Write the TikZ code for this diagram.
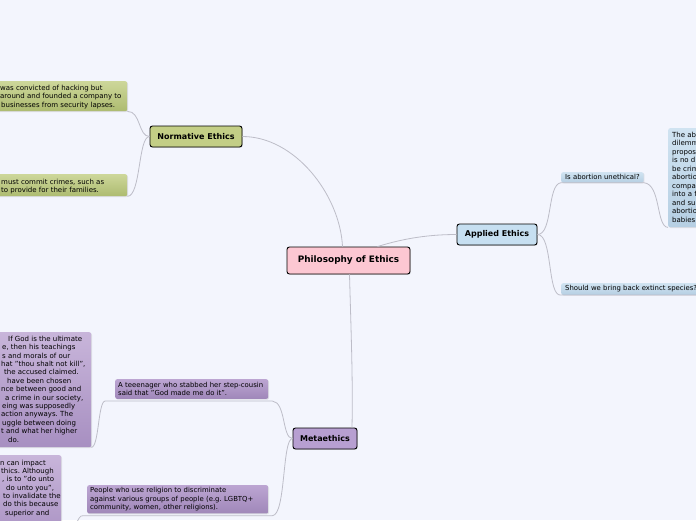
\documentclass[tikz,border=0pt]{standalone}
\usepackage{fontspec}
\setmainfont{DejaVu Sans}
\usetikzlibrary{calc,shadows}
\definecolor{bg}{HTML}{F3F5FD}
\definecolor{linec}{HTML}{BDBDC8}
\definecolor{cpink}{HTML}{FCC7D2}
\definecolor{cgreen}{HTML}{C3CE86}
\definecolor{cblue}{HTML}{C6DFF1}
\definecolor{cpurple}{HTML}{B79FD1}
\definecolor{gtop}{HTML}{CDD79A}
\definecolor{gbot}{HTML}{ADBB70}
\definecolor{ptop}{HTML}{BCA5D2}
\definecolor{pbot}{HTML}{9F87B9}
\definecolor{lptop}{HTML}{C8B5DA}
\definecolor{lpbot}{HTML}{A78FC1}
\definecolor{btop}{HTML}{D0E3F1}
\definecolor{bbot}{HTML}{B6CFE3}
\begin{document}
\frenchspacing
\begin{tikzpicture}[x=1pt,y=-1pt,
  mainnode/.style={draw=black, line width=0.9pt, rounded corners=2.5pt,
    font=\fontsize{8}{9.6}\selectfont\bfseries, inner sep=0pt, minimum height=21pt,
    drop shadow={shadow xshift=0.8pt, shadow yshift=-0.8pt, opacity=0.25}},
  subbox/.style={rounded corners=2pt, inner sep=0pt, anchor=north west,
    drop shadow={shadow xshift=0.8pt, shadow yshift=-0.8pt, opacity=0.2}},
  subtxt/.style={font=\fontsize{7}{8.4}\selectfont, inner sep=0pt, anchor=base west},
  inbox/.style={subbox, font=\fontsize{6.9}{8.3}\selectfont, align=left, inner xsep=3pt, inner ysep=3pt},
  conn/.style={draw=linec, line width=0.8pt}]
\useasboundingbox (0,0) rectangle (696,520);
\clip (0,0) rectangle (696,520);
\fill[bg] (0,0) rectangle (696,520);

% main nodes
\node[mainnode, fill=cpink, minimum width=123pt, minimum height=27pt,
      font=\fontsize{8.9}{10}\selectfont\bfseries] (C) at (348.5,260.5) {Philosophy of Ethics};
\node[mainnode, fill=cgreen, minimum width=92pt] (N) at (196,136.5) {Normative Ethics};
\node[mainnode, fill=cblue, minimum width=80pt] (A) at (497,234.5) {Applied Ethics};
\node[mainnode, fill=cpurple, minimum width=64pt] (M) at (325,438.5) {Metaethics};

% green boxes
\node[subbox, top color=gtop, bottom color=gbot, minimum width=187pt, minimum height=30pt] (g1) at (-60,81) {};
\node[subtxt] (g1a) at (0,90.3) {was convicted of hacking but};
\node[subtxt] (g1b) at (0,98.7) {around and founded a company to};
\node[subtxt] (g1c) at (1,107.1) {businesses from security lapses.};
\node[subbox, top color=gtop, bottom color=gbot, minimum width=187pt, minimum height=22pt] (g2) at (-60,174) {};
\node[subtxt] (g2a) at (1,184.3) {must commit crimes, such as};
\node[subtxt] (g2b) at (1,192.5) {to provide for their families.};

% blue boxes
\node[inbox, top color=btop, bottom color=bbot, inner ysep=2.5pt, inner xsep=4pt] (q1) at (561,172) {Is abortion unethical?};
\node[inbox, top color=btop, bottom color=bbot, inner ysep=2.5pt, inner xsep=4pt] (s1) at (561,283) {Should we bring back extinct species?};
\node[subbox, top color=btop, bottom color=bbot, minimum width=100pt, minimum height=99pt] (b1) at (668,128) {};
\foreach \t [count=\i from 0] in {The ab, dilemm, propos, is no d, be crim, abortio, compa, into a f, and su, abortio, babies}
  \node[subtxt] (b1t\i) at (672,{137.3+8.5*\i}) {\t};

% purple boxes
\node[inbox, top color=ptop, bottom color=pbot, text width=147pt] (t1) at (115,379)
  {A teeenager who stabbed her step-cousin\\said that "God made me do it".};
\node[inbox, top color=ptop, bottom color=pbot, text width=175pt, inner ysep=2.5pt] (pp) at (87,485)
  {People who use religion to discriminate\\against various groups of people (e.g. LGBTQ+\\community, women, other religions).};
\node[subbox, top color=lptop, bottom color=lpbot, minimum width=151pt, minimum height=115pt] (P1) at (-60,332) {};
\foreach \xx/\t [count=\i from 0] in {8/If God is the ultimate, 2/{e, then his teachings}, 2/s and morals of our,
   1/{hat "thou shalt not kill",}, 4/the accused claimed., 7/have been chosen, 1/nce between good and,
   5/{a crime in our society,}, 2/eing was supposedly, 1/action anyways. The, 2/uggle between doing,
   1/t and what her higher, 8/do.}
  \node[subtxt] (P1t\i) at (\xx,{341.3+8.4*\i}) {\t};
\node[subbox, top color=lptop, bottom color=lpbot, minimum width=121pt, minimum height=90pt] (P2) at (-60,455) {};
\foreach \xx/\t [count=\i from 0] in {0/n can impact, 1/thics. Although, 2/{, is to "do unto}, 6/{do unto you",},
   3/to invalidate the, 3/do this because, 5/superior and}
  \node[subtxt] (P2t\i) at (\xx,{465.3+8.3*\i}) {\t};

% connectors from centre
\draw[conn] ($(C.north)+(-6,0)$) .. controls (340,195) and (295,136.5) .. (N.east);
\draw[conn] ($(C.north)+(29,0)$) .. controls (405,238) and (430,234.5) .. (A.west);
\draw[conn] ($(C.south)+(1,0)$) .. controls (351,330) and (353,380) .. ($(M.north)+(27,0)$);

% normative children
\draw[conn] (N.west) .. controls (138,136.5) and (141,111) .. (g1.south east);
\draw[conn] (N.west) .. controls (138,136.5) and (141,196) .. (g2.south east);

% applied children
\draw[conn] (A.east) .. controls (553,234.5) and (547,184) .. (q1.south west) -- (q1.south east)
  .. controls (661,184) and (656,227) .. (b1.south west);
\draw[conn] (A.east) .. controls (553,234.5) and (547,297) .. (s1.south west) -- ($(s1.south east)+(10,0)$);

% metaethics children
\draw[conn] (M.west) .. controls (282,438.5) and (286,402) .. ($(t1.south east)+(4,2)$) -- ($(t1.south west)+(-10,2)$)
  .. controls (98,402) and (99,447) .. (P1.south east);
\draw[conn] (M.west) .. controls (282,438.5) and (286,515) .. ($(pp.south east)+(4,2)$) -- ($(pp.south west)+(-4,2)$)
  .. controls (77,515) and (77,530) .. (P2.south east);
\end{tikzpicture}
\end{document}
